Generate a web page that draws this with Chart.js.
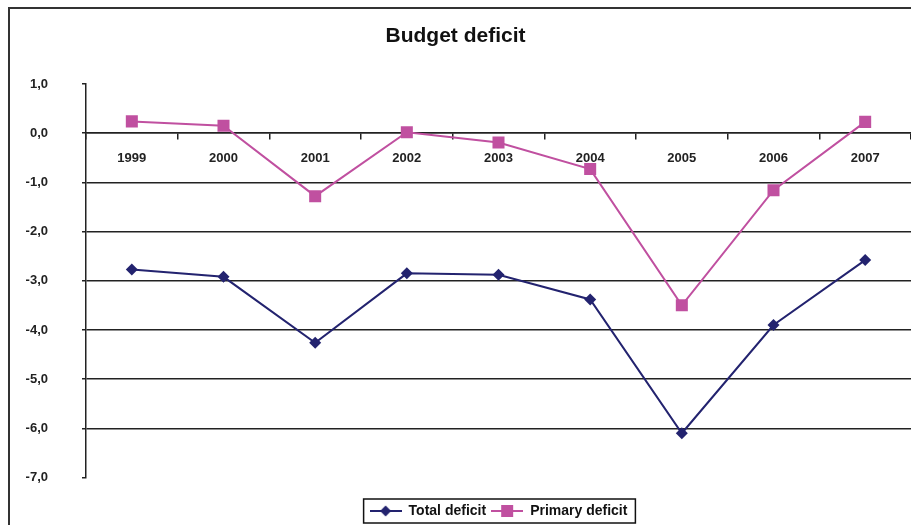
<!DOCTYPE html>
<html>
<head>
<meta charset="utf-8">
<script src="https://cdn.jsdelivr.net/npm/chart.js@4/dist/chart.umd.min.js"></script>
<style>
  html, body { margin: 0; padding: 0; background: #fff; overflow: hidden; }
  #wrap { position: relative; width: 933px; height: 528px; }
</style>
</head>
<body>
<div id="wrap"><canvas id="deficitChart" width="933" height="528"></canvas></div>
<script>
const years = ['1999', '2000', '2001', '2002', '2003', '2004', '2005', '2006', '2007'];
const totalDeficit = [-2.77, -2.92, -4.26, -2.85, -2.88, -3.38, -6.1, -3.9, -2.58];
const primaryDeficit = [0.24, 0.15, -1.28, 0.02, -0.19, -0.73, -3.5, -1.16, 0.23];
const yTicks = [1, 0, -1, -2, -3, -4, -5, -6, -7];

const NAVY = '#23236f';
const PINK = '#c050a0';
const INK = '#222';

// small line-with-marker swatch for the legend
function legendSwatch(color, style) {
    const c = document.createElement('canvas');
    c.width = 32; c.height = 14;
    const g = c.getContext('2d');
    g.strokeStyle = color;
    g.lineWidth = 2;
    g.beginPath(); g.moveTo(0, 7); g.lineTo(32, 7); g.stroke();
    g.fillStyle = color;
    g.beginPath();
    if (style === 'diamond') {
        g.moveTo(16, 1.5); g.lineTo(21.5, 7); g.lineTo(16, 12.5); g.lineTo(10.5, 7);
    } else {
        g.rect(10, 1, 12, 12);
    }
    g.closePath(); g.fill();
    return c;
}

const frame = {
    id: 'frame',
    beforeDraw(chart) {
        const ctx = chart.ctx;
        ctx.save();
        ctx.fillStyle = '#fff';
        ctx.fillRect(0, 0, chart.width, chart.height);
        ctx.strokeStyle = '#333';
        ctx.lineWidth = 2;
        ctx.strokeRect(9, 8, 1000, 1000);
        ctx.restore();
    },
    afterDraw(chart) {
        const boxes = chart.legend && chart.legend.legendHitBoxes;
        if (!boxes || !boxes.length) return;
        let l = Infinity, r = -Infinity, t = Infinity, b = -Infinity;
        boxes.forEach(h => {
            l = Math.min(l, h.left); r = Math.max(r, h.left + h.width);
            t = Math.min(t, h.top); b = Math.max(b, h.top + h.height);
        });
        const ctx = chart.ctx;
        ctx.save();
        ctx.strokeStyle = '#111';
        ctx.lineWidth = 1.5;
        ctx.strokeRect(l - 6, t - 5, r - l + 14, b - t + 10);
        ctx.restore();
    }
};

new Chart(document.getElementById('deficitChart'), {
    type: 'line',
    data: {
        labels: years,
        datasets: [{
            label: 'Total deficit',
            data: totalDeficit,
            borderColor: NAVY,
            backgroundColor: NAVY,
            borderWidth: 2,
            pointStyle: 'rectRot',
            pointRadius: 6,
            pointBorderWidth: 0,
            tension: 0
        }, {
            label: 'Primary deficit',
            data: primaryDeficit,
            borderColor: PINK,
            backgroundColor: PINK,
            borderWidth: 2,
            pointStyle: 'rect',
            pointRadius: 8.5,
            pointBorderWidth: 0,
            tension: 0
        }]
    },
    options: {
        responsive: false,
        animation: false,
        devicePixelRatio: 1,
        layout: { padding: { left: 0, right: 22, top: 0, bottom: 0 } },
        plugins: {
            title: {
                display: true,
                text: 'Budget deficit',
                color: '#111',
                font: { family: 'Liberation Sans, Arial, sans-serif', size: 21, weight: 'bold' },
                padding: { top: 23.4, bottom: 35.4 }
            },
            legend: {
                position: 'bottom',
                fullSize: false,
                // empty title only used as a spacer above the legend row
                title: { display: true, text: '', font: { size: 1 }, padding: { top: 20.3, bottom: 0 } },
                labels: {
                    usePointStyle: true,
                    pointStyleWidth: 32,
                    color: '#111',
                    padding: 5,
                    font: { family: 'Liberation Sans, Arial, sans-serif', size: 14, weight: 'bold' },
                    generateLabels(chart) {
                        return chart.data.datasets.map((ds, i) => ({
                            text: ds.label,
                            pointStyle: legendSwatch(ds.borderColor, i === 0 ? 'diamond' : 'square'),
                            fillStyle: ds.borderColor,
                            strokeStyle: ds.borderColor,
                            lineWidth: 0,
                            fontColor: '#111',
                            hidden: false,
                            datasetIndex: i
                        }));
                    }
                }
            },
            tooltip: { enabled: false }
        },
        scales: {
            x: {
                position: { y: 0 },
                offset: true,
                border: { display: true, color: INK, width: 1.5 },
                grid: { offset: true, drawOnChartArea: false, drawTicks: true, tickLength: 6, color: INK, lineWidth: 1.5 },
                ticks: {
                    color: '#222',
                    padding: 11,
                    maxRotation: 0,
                    font: { family: 'Liberation Sans, Arial, sans-serif', size: 13, weight: 'bold' }
                }
            },
            y: {
                min: -7,
                max: 1,
                afterFit(scale) { scale.width = 86; },
                afterBuildTicks(scale) { scale.ticks = yTicks.map(v => ({ value: v })); },
                border: { display: true, color: INK, width: 1.5 },
                grid: {
                    color: ctx => (ctx.tick && (ctx.tick.value === 1 || ctx.tick.value === -7)) ? 'rgba(0,0,0,0)' : INK,
                    tickColor: INK,
                    lineWidth: 1.5,
                    tickLength: 4
                },
                ticks: {
                    color: '#222',
                    padding: 34,
                    font: { family: 'Liberation Sans, Arial, sans-serif', size: 13, weight: 'bold' },
                    callback: v => Number(v).toFixed(1).replace('.', ',')
                }
            }
        }
    },
    plugins: [frame]
});
</script>
</body>
</html>
